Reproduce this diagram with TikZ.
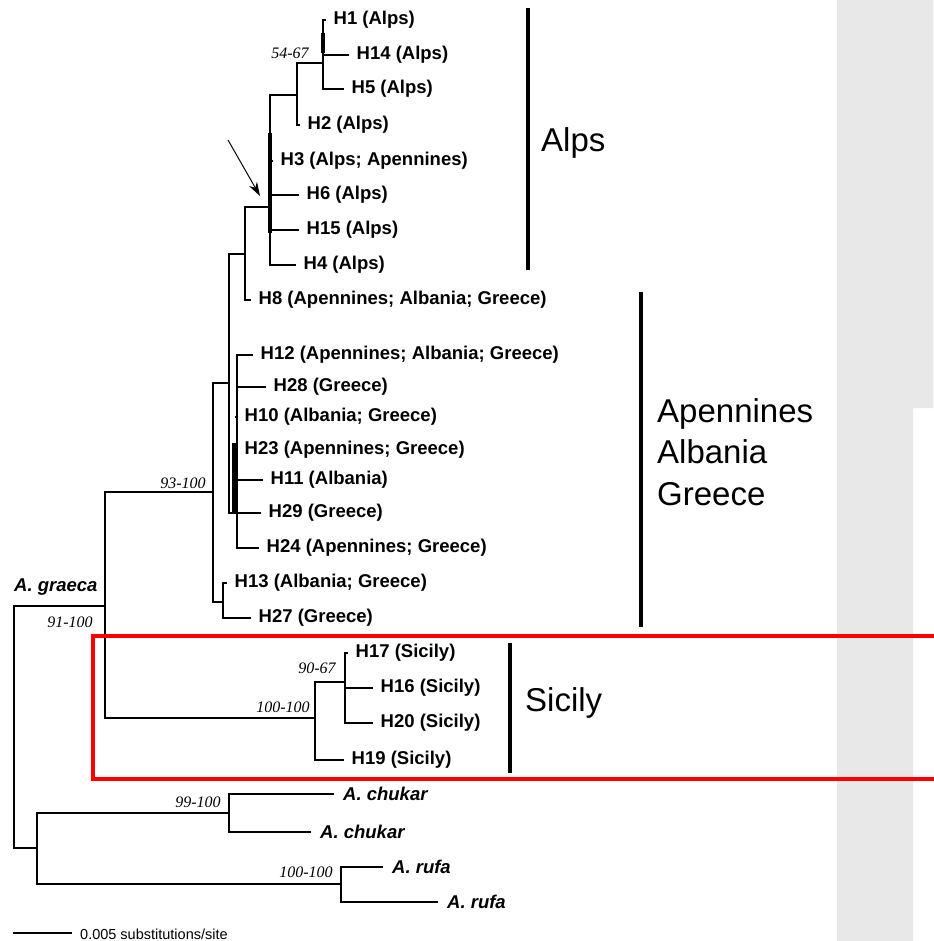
\documentclass[tikz,border=0pt]{standalone}
\usepackage{fontspec}
\setmainfont{Liberation Sans}
\newfontfamily\bsfont{Liberation Serif}
\usetikzlibrary{arrows.meta}
\definecolor{panel}{HTML}{E8E8E8}
\definecolor{boxred}{HTML}{FF0000}

\begin{document}
\begin{tikzpicture}[x=1pt, y=-1pt,
  branch/.style={line width=2.2pt, line cap=rect},
  tip/.style={anchor=west, inner xsep=8.5pt, inner ysep=0pt, font=\fontsize{18.5}{20}\selectfont\bfseries},
  spec/.style={inner xsep=10pt, inner ysep=0pt, font=\fontsize{18.5}{20}\selectfont\bfseries\itshape},
  boot/.style={inner sep=0pt, font=\fontsize{16}{18}\selectfont\bsfont\itshape},
  clade/.style={line width=4pt},
  region/.style={anchor=west, inner sep=0pt, align=left, font=\fontsize{33}{41.5}\selectfont}]
  \useasboundingbox (0,0) rectangle (933,941);
  \fill[panel] (837,0) -- (933,0) -- (933,408) -- (913,408) -- (913,941) -- (837,941) -- cycle;

  % internal nodes
  \coordinate (root) at (14,606);
  \coordinate (gr) at (105,606);
  \coordinate (m93) at (213,492);
  \coordinate (nC) at (229,383);
  \coordinate (nB) at (245,254);
  \coordinate (nA) at (270,207);
  \coordinate (n2) at (297,95);
  \coordinate (n54) at (323,63);
  \coordinate (nG) at (237,513);
  \coordinate (n13) at (223,602);
  \coordinate (sic) at (315,718);
  \coordinate (n90) at (345,682);
  \coordinate (out) at (37,848);
  \coordinate (chu) at (229,813);
  \coordinate (ruf) at (341,884);

  % haplotypes
  \node[tip] (h1) at (325,20) {H1 (Alps)};
  \node[tip] (h14) at (348,55) {H14 (Alps)};
  \node[tip] (h5) at (343,89) {H5 (Alps)};
  \node[tip] (h2) at (299,125) {H2 (Alps)};
  \node[tip] (h3) at (272,161) {H3 (Alps; Apennines)};
  \node[tip] (h6) at (298,195) {H6 (Alps)};
  \node[tip] (h15) at (298,230) {H15 (Alps)};
  \node[tip] (h4) at (295,265) {H4 (Alps)};
  \node[tip] (h8) at (250,300) {H8 (Apennines; Albania; Greece)};
  \node[tip] (h12) at (252,355) {H12 (Apennines; Albania; Greece)};
  \node[tip] (h28) at (265,387) {H28 (Greece)};
  \node[tip] (h10) at (236,417) {H10 (Albania; Greece)};
  \node[tip] (h23) at (236,450) {H23 (Apennines; Greece)};
  \node[tip] (h11) at (262,480) {H11 (Albania)};
  \node[tip] (h29) at (260,513) {H29 (Greece)};
  \node[tip] (h24) at (258,548) {H24 (Apennines; Greece)};
  \node[tip] (h13) at (226,583) {H13 (Albania; Greece)};
  \node[tip] (h27) at (250,618) {H27 (Greece)};
  \node[tip] (h17) at (347,653) {H17 (Sicily)};
  \node[tip] (h16) at (372,688) {H16 (Sicily)};
  \node[tip] (h20) at (372,723) {H20 (Sicily)};
  \node[tip] (h19) at (343,760) {H19 (Sicily)};
  \node[spec, anchor=west] (c1) at (333,794) {A. chukar};
  \node[spec, anchor=west] (c2) at (310,832) {A. chukar};
  \node[spec, anchor=west] (r1) at (382,867) {A. rufa};
  \node[spec, anchor=west] (r2) at (437,902) {A. rufa};
  \node[spec, anchor=west, inner xsep=0pt] (agr) at (14,587) {A. graeca};

  % branches
  \draw[branch] (root) -- (gr);
  \foreach \p/\c in {root/out, gr/m93, gr/sic, m93/nC, m93/n13, nC/nB, nC/nG,
                     nB/nA, nA/n2, n2/n54, sic/n90, out/chu, out/ruf}
    \draw[branch] (\p) |- (\c);
  \foreach \p/\c in {n54/h1, n54/h14, n54/h5, n2/h2, nA/h3, nA/h6, nA/h15, nA/h4,
                     nB/h8, nG/h12, nG/h28, nG/h10, nG/h23, nG/h11, nG/h29, nG/h24,
                     n13/h13, n13/h27, n90/h17, n90/h16, n90/h20, sic/h19,
                     chu/c1, chu/c2, ruf/r1, ruf/r2}
    \draw[branch] (\p) |- (\c.west);
  \draw[line width=4pt] (270,133) -- (270,233);
  \draw[line width=3.5pt] (234,443) -- (234,513);
  \draw[line width=3.5pt] (323,33) -- (323,53);

  % support values
  \node[boot] (b54) at (290,53) {54-67};
  \node[boot] (b93) at (183,483) {93-100};
  \node[boot] (b91) at (70,622) {91-100};
  \node[boot] (b100s) at (283,707) {100-100};
  \node[boot] (b90) at (317,668) {90-67};
  \node[boot] (b99) at (198,802) {99-100};
  \node[boot] (b100r) at (306,872) {100-100};

  % arrow to the Alps node
  \coordinate (arrfrom) at (228,140);
  \coordinate (arrto) at (260,196);
  \draw[line width=1pt, -{Stealth[length=14pt, width=9pt]}] (arrfrom) -- (arrto);

  % regions
  \draw[clade] (528,8) -- (528,270);
  \node[region] (alps) at (541,143) {Alps};
  \draw[clade] (641,292) -- (641,627);
  \node[region] (balk) at (657,452) {Apennines\\Albania\\Greece};
  \draw[clade] (510,643) -- (510,773);
  \node[region] (sicl) at (525,703) {Sicily};

  % scale bar
  \coordinate (sb0) at (14,933);
  \coordinate (sb1) at (71,933);
  \draw[branch] (sb0) -- (sb1);
  \node[anchor=west, inner sep=0pt, font=\fontsize{14.5}{16}\selectfont] (sbl) at (80,934) {0.005 substitutions/site};

  \draw[boxred, line width=4.5pt] (93,636) rectangle (960,779);
\end{tikzpicture}
\end{document}
